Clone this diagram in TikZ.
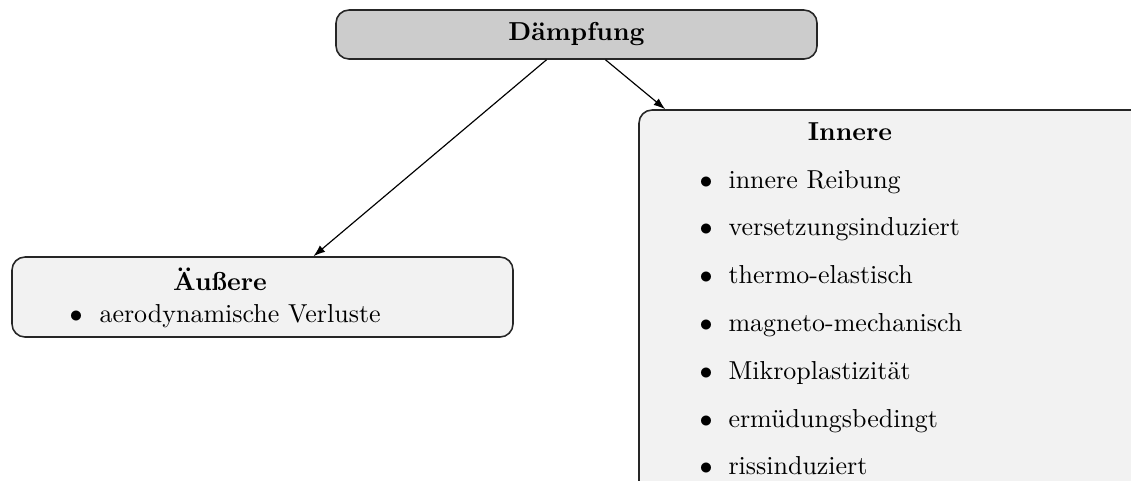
\documentclass[tikz,border=0pt]{standalone}
\usetikzlibrary{arrows.meta,fit}
\begin{document}
\begin{tikzpicture}[x=0.385pt,y=-0.385pt,
  box/.style={draw=black!85, rounded corners=5pt, line width=0.6pt, inner sep=0pt},
  ttl/.style={font=\bfseries, anchor=base, inner sep=0pt},
  itm/.style={anchor=base west, inner sep=0pt},
  bul/.style={anchor=base, inner sep=0pt},
  arr/.style={-{Latex[length=4.5pt,width=3.2pt]}, line width=0.45pt}]
\clip (0,0) rectangle (1131,480);
\node[box, fill=black!20, fit={(336,10) (817,59)}] (d) {};
\node[font=\bfseries, inner sep=0pt] (dt) at (d.center) {Dämpfung};
\node[box, fill=black!5, fit={(12,257) (513,337)}] (a) {};
\node[box, fill=black!5, fit={(639,110) (1200,500)}] (i) {};
% Aeussere
\node[ttl] (at) at (220,290) {Äußere};
\node[bul] (ab) at (76,322) {$\bullet$};
\node[itm] (a1) at (99,322) {aerodynamische Verluste};
% Innere
\node[ttl] (it) at (850,140) {Innere};
\foreach \t [count=\k] in {innere Reibung, versetzungsinduziert, thermo-elastisch, magneto-mechanisch, Mikroplastizität, ermüdungsbedingt, rissinduziert}{
  \node[bul] (ib\k) at (706,{188+47.8*(\k-1)}) {$\bullet$};
  \node[itm] (i\k) at (728,{188+47.8*(\k-1)}) {\t};
}
\draw[arr] ([xshift=-30*0.385pt]d.south) -- ([xshift=51*0.385pt]a.north);
\draw[arr] ([xshift=29*0.385pt]d.south) -- ([xshift=27*0.385pt]i.north west);
\end{tikzpicture}
\end{document}
